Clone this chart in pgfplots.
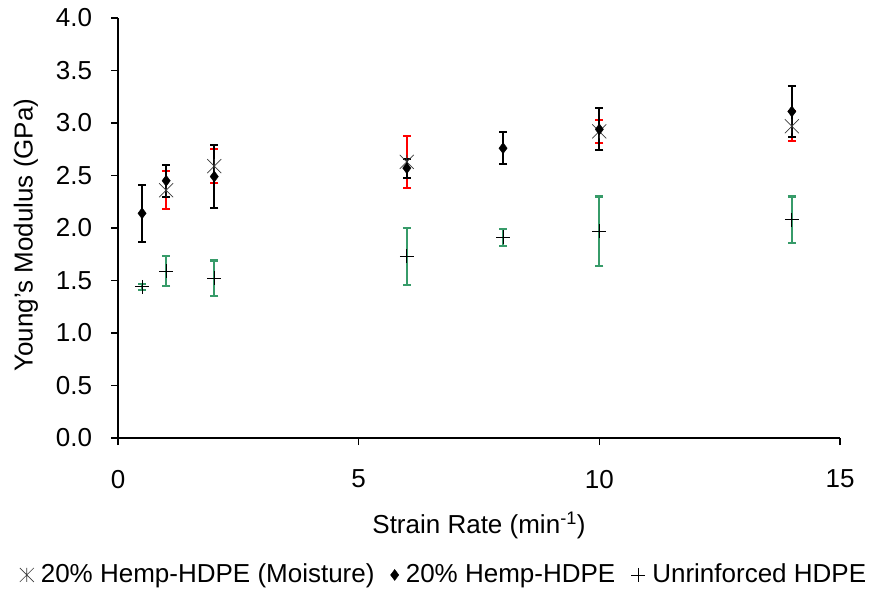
\documentclass[border=0pt]{standalone}
\usepackage{pgfplots}
\pgfplotsset{compat=1.18}
\usepackage{fontspec}
\setmainfont{Liberation Sans}
\definecolor{errgreen}{RGB}{55,155,105}
\definecolor{mgray}{RGB}{60,60,60}
\pgfdeclareplotmark{xstar}{%
 \pgfpathmoveto{\pgfqpoint{-\pgfplotmarksize}{-\pgfplotmarksize}}%
 \pgfpathlineto{\pgfqpoint{\pgfplotmarksize}{\pgfplotmarksize}}%
 \pgfpathmoveto{\pgfqpoint{-\pgfplotmarksize}{\pgfplotmarksize}}%
 \pgfpathlineto{\pgfqpoint{\pgfplotmarksize}{-\pgfplotmarksize}}%
 \pgfpathmoveto{\pgfqpoint{0pt}{-\pgfplotmarksize}}%
 \pgfpathlineto{\pgfqpoint{0pt}{\pgfplotmarksize}}%
 \pgfusepathqstroke}
\begin{document}
\fontsize{26bp}{30bp}\selectfont
\begin{tikzpicture}
\path[use as bounding box] (-118bp,-154bp) rectangle (767bp,438bp);
\begin{axis}[
  at={(0,0)}, anchor=south west,
  scale only axis,
  width=722bp, height=420bp,
  xmin=0, xmax=15, ymin=0, ymax=4,
  axis x line=bottom, axis y line=left,
  axis line style={-, line width=1.6bp},
  xtick={0,5,10,15},
  ytick={0,0.5,...,4},
  tick align=outside,
  major tick length=7bp,
  tick style={line width=1.2bp, black},
  /pgf/number format/assume math mode=true,
  yticklabel style={/pgf/number format/fixed, /pgf/number format/fixed zerofill, /pgf/number format/precision=1},
  xticklabel style={/pgf/number format/fixed, /pgf/number format/precision=0},
  ticklabel style={font=\fontsize{26bp}{30bp}\selectfont},
  every y tick label/.append style={xshift=-10bp},
  every x tick label/.append style={yshift=-16bp},
  xlabel={Strain Rate (min\textsuperscript{-1})},
  ylabel={Young's Modulus (GPa)},
  label style={font=\fontsize{26bp}{30bp}\selectfont},
  every axis x label/.style={at={(axis description cs:0.5,-0.207)}, anchor=center},
  every axis y label/.style={at={(axis description cs:-0.1274,0.483)}, anchor=center, rotate=90},
  legend style={at={(axis description cs:0.4515,-0.326)}, anchor=center, draw=none, legend columns=3,
    font=\fontsize{26bp}{30bp}\selectfont,
    /tikz/every odd column/.append style={column sep=5bp},
    /tikz/every even column/.append style={column sep=14bp},
    inner sep=0pt},
  legend cell align=left,
  clip=false,
]
\addplot[only marks, mark=xstar, mark size=7bp, mark options={mgray, line width=0.7bp},
  error bars/.cd, y dir=both, y explicit,
  error bar style={red, line width=2bp},
  error mark options={rotate=90, red, mark size=4bp, line width=2bp}]
  table[x=x, y=y, y error=e] {
x y e
1 2.36 0.18
2 2.59 0.16
6 2.63 0.25
10 2.92 0.11
14 2.97 0.14
};
\addlegendentry{20\% Hemp-HDPE (Moisture)}
\addplot[only marks, mark=diamond*, mark size=5.5bp, mark options={black},
  error bars/.cd, y dir=both, y explicit,
  error bar style={black, line width=2bp},
  error mark options={rotate=90, black, mark size=4bp, line width=2bp}]
  table[x=x, y=y, y error=e] {
x y e
0.5 2.14 0.27
1 2.45 0.15
2 2.49 0.30
6 2.57 0.09
8 2.76 0.15
10 2.94 0.20
14 3.11 0.24
};
\addlegendentry{20\% Hemp-HDPE}
\addplot[only marks, mark=+, mark size=7bp, mark options={black, line width=0.8bp},
  error bars/.cd, y dir=both, y explicit,
  error bar style={errgreen, line width=2.2bp},
  error mark options={rotate=90, errgreen, mark size=4bp, line width=2.2bp}]
  table[x=x, y=y, y error=e] {
x y e
0.5 1.44 0.03
1 1.59 0.14
2 1.52 0.17
6 1.73 0.27
8 1.91 0.08
10 1.97 0.33
14 2.08 0.22
};
\addlegendentry{Unrinforced HDPE}
\end{axis}
\end{tikzpicture}
\end{document}
